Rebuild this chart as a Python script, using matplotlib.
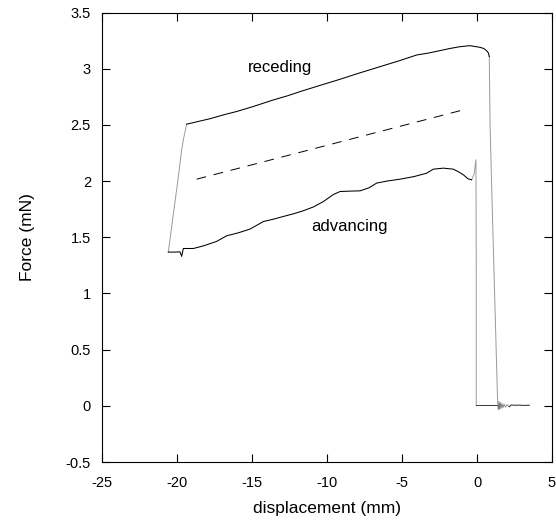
import numpy as np
import matplotlib.pyplot as plt

plt.rcParams['font.family'] = ['Liberation Sans', 'DejaVu Sans']
plt.rcParams['axes.unicode_minus'] = False

# receding branch (pulling out), mm / mN
rec_x = [-19.36, -18.6, -17.8, -16.91, -16.0, -15.0, -13.58, -12.6, -11.8, -10.5,
         -9.13, -8.0, -6.47, -5.2, -4.02, -3.2, -2.47, -1.8, -1.13, -0.47,
         0.2, 0.45, 0.64, 0.76, 0.82]
rec_y = [2.506, 2.53, 2.555, 2.589, 2.62, 2.66, 2.722, 2.76, 2.796, 2.85,
         2.906, 2.955, 3.018, 3.07, 3.122, 3.14, 3.161, 3.18, 3.196, 3.205,
         3.19, 3.18, 3.16, 3.14, 3.107]

# advancing branch (pushing in)
adv_x = [-20.58, -20.13, -19.8, -19.69, -19.58, -18.91, -18.2, -17.36, -16.69, -15.9,
         -15.13, -14.24, -13.6, -12.91, -12.2, -11.58, -10.9, -10.24, -9.58, -9.13,
         -8.6, -7.8, -7.2, -6.69, -6.0, -5.13, -4.2, -3.36, -2.91, -2.24,
         -1.58, -1.2, -0.91, -0.6, -0.36]
adv_y = [1.368, 1.368, 1.37, 1.33, 1.40, 1.40, 1.425, 1.463, 1.513, 1.54,
         1.573, 1.64, 1.66, 1.685, 1.71, 1.736, 1.77, 1.818, 1.88, 1.907,
         1.91, 1.913, 1.94, 1.982, 2.0, 2.017, 2.04, 2.07, 2.106, 2.115,
         2.106, 2.08, 2.056, 2.02, 2.011]

# rise between the two branches at the turning point
rise_x = [-20.58, -20.2, -19.9, -19.69, -19.58, -19.36]
rise_y = [1.368, 1.75, 2.05, 2.278, 2.367, 2.506]

# snap-off of the advancing branch
adv_drop_x = [-0.36, -0.2, -0.07, -0.05, -0.05]
adv_drop_y = [2.011, 2.06, 2.19, 1.2, 0.005]

# detachment at the end of the receding branch
rec_drop_x = [0.82, 0.87, 1.02, 1.38]
rec_drop_y = [3.107, 2.506, 1.744, 0.005]

# baseline after detachment
base_x = [-0.05, 0.6, 1.38, 1.42, 1.46, 1.5, 1.55, 1.6, 1.66, 1.72, 1.8, 1.9, 2.0,
          2.15, 2.3, 2.5, 2.8, 3.1, 3.49]
base_y = [0.005, 0.005, 0.005, -0.035, 0.04, -0.03, 0.03, -0.025, 0.022, -0.018, 0.015,
          -0.012, 0.01, -0.008, 0.008, 0.005, 0.006, 0.004, 0.005]

# linear fit shown as dashed line
fit_x = [-18.69, -0.73]
fit_y = [2.017, 2.64]

fig = plt.figure(figsize=(5.56, 5.28), dpi=100)
ax = fig.add_axes([0.1835, 0.125, 0.8093, 0.8513])

gray = '#9a9a9a'
ax.plot(rise_x, rise_y, color=gray, lw=0.7)
ax.plot(adv_drop_x, adv_drop_y, color=gray, lw=0.7)
ax.plot(rec_drop_x, rec_drop_y, color=gray, lw=0.7)
ax.plot(base_x[:3], base_y[:3], color='#333333', lw=0.7)
ax.plot(base_x[2:14], base_y[2:14], color='#777777', lw=0.6)
ax.plot(base_x[13:], base_y[13:], color='#222222', lw=0.7)
ax.plot(rec_x, rec_y, color='black', lw=0.75)
ax.plot(adv_x, adv_y, color='black', lw=0.75)
ax.plot(fit_x, fit_y, color='black', lw=0.7, dashes=(10, 8))

ax.text(-13.13, 3.01, 'receding', fontsize=12, ha='center', va='center')
ax.text(-8.47, 1.60, 'advancing', fontsize=12, ha='center', va='center')

ax.set_xlim(-25, 5)
ax.set_ylim(-0.5, 3.5)
ax.set_xticks(np.arange(-25, 6, 5))
ax.set_yticks(np.arange(-0.5, 3.6, 0.5))
ax.set_yticklabels(['-0.5', '0', '0.5', '1', '1.5', '2', '2.5', '3', '3.5'])
ax.tick_params(direction='in', top=True, right=True, length=5.5, width=0.8,
               labelsize=10.5)
ax.tick_params(axis='x', pad=10)
ax.tick_params(axis='y', pad=8)
for s in ax.spines.values():
    s.set_linewidth(0.8)

ax.set_xlabel('displacement (mm)', fontsize=12.5, labelpad=8)
ax.set_ylabel('Force (mN)', fontsize=12.5, labelpad=22)

plt.savefig('out.png', dpi=100)
